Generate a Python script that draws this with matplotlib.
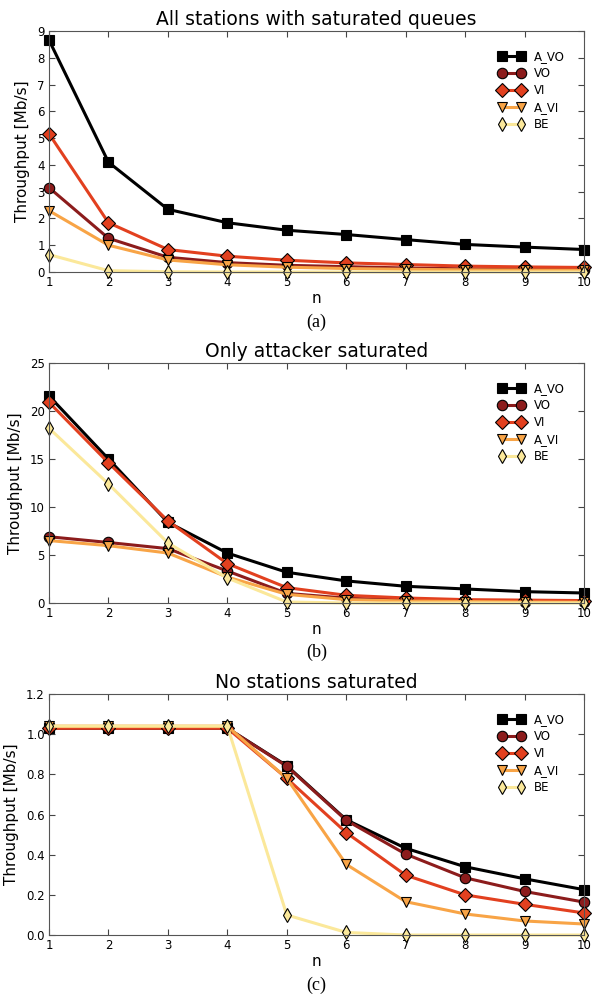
import matplotlib
matplotlib.use("Agg")
import matplotlib.pyplot as plt

n = [1, 2, 3, 4, 5, 6, 7, 8, 9, 10]
labels = ["A_VO", "VO", "VI", "A_VI", "BE"]
colors = ["#000000", "#8c1c1c", "#e2401f", "#f8a446", "#fbe89a"]
markers = ["s", "o", "D", "v", "d"]

# (a) all stations with saturated queues
sat_all = [
    [8.66, 4.10, 2.34, 1.84, 1.56, 1.40, 1.21, 1.03, 0.93, 0.84],
    [3.15, 1.26, 0.55, 0.35, 0.25, 0.20, 0.15, 0.12, 0.10, 0.09],
    [5.16, 1.84, 0.84, 0.59, 0.44, 0.34, 0.28, 0.22, 0.19, 0.17],
    [2.29, 1.00, 0.45, 0.27, 0.18, 0.13, 0.10, 0.08, 0.07, 0.06],
    [0.65, 0.05, 0.01, 0.0, 0.0, 0.0, 0.0, 0.0, 0.0, 0.0],
]
# (b) only attacker saturated
sat_att = [
    [21.56, 15.0, 8.4, 5.2, 3.2, 2.3, 1.74, 1.46, 1.18, 1.04],
    [6.9, 6.3, 5.66, 3.33, 1.0, 0.5, 0.3, 0.2, 0.15, 0.12],
    [20.9, 14.6, 8.55, 4.1, 1.6, 0.8, 0.52, 0.35, 0.3, 0.25],
    [6.5, 5.97, 5.2, 2.7, 0.9, 0.35, 0.2, 0.15, 0.1, 0.08],
    [18.2, 12.4, 6.25, 2.6, 0.1, 0.0, 0.0, 0.0, 0.0, 0.0],
]
# (c) no stations saturated
sat_none = [
    [1.03, 1.03, 1.03, 1.03, 0.843, 0.574, 0.432, 0.34, 0.28, 0.226],
    [1.03, 1.03, 1.03, 1.03, 0.84, 0.571, 0.403, 0.285, 0.217, 0.164],
    [1.03, 1.03, 1.03, 1.03, 0.78, 0.51, 0.298, 0.20, 0.153, 0.11],
    [1.04, 1.04, 1.04, 1.04, 0.78, 0.352, 0.166, 0.105, 0.07, 0.055],
    [1.04, 1.04, 1.04, 1.04, 0.10, 0.013, 0.0, 0.0, 0.0, 0.0],
]

panels = [
    (sat_all, "All stations with saturated queues", [0, 9], range(0, 10), "%d", "(a)"),
    (sat_att, "Only attacker saturated", [0, 25], range(0, 26, 5), "%d", "(b)"),
    (sat_none, "No stations saturated", [0, 1.2], [0, 0.2, 0.4, 0.6, 0.8, 1.0, 1.2], "%.1f", "(c)"),
]
boxes = [
    [0.0828, 0.7269, 0.9037, 0.2420],
    [0.0828, 0.3946, 0.9037, 0.2410],
    [0.0828, 0.0612, 0.9037, 0.2420],
]

fig = plt.figure(figsize=(5.92, 9.96), dpi=100)

for (data, title, ylim, yticks, fmt, tag), box in zip(panels, boxes):
    ax = fig.add_axes(box)
    for vals, lab, c, m in zip(data, labels, colors, markers):
        ax.plot(n, vals, color=c, marker=m, markersize=7.5, linewidth=2.2,
                markeredgecolor="black", markeredgewidth=0.8, label=lab,
                clip_on=False)
    ax.set_xlim(1, 10)
    ax.set_ylim(ylim)
    ax.set_xticks(n)
    ax.set_yticks(list(yticks))
    ax.set_yticklabels([fmt % t for t in yticks])
    ax.tick_params(direction="in", top=True, right=True, labelsize=8.5,
                   length=4, color="#444444", pad=3)
    for s in ax.spines.values():
        s.set_color("#555555")
    ax.set_title(title, fontsize=13.5, pad=4)
    ax.set_ylabel("Throughput [Mb/s]", fontsize=11, labelpad=5)
    ax.set_xlabel("n", fontsize=11, labelpad=1)
    ax.legend(loc="upper right", frameon=False, fontsize=8.5, numpoints=2,
              handlelength=2.2, labelspacing=0.35, borderaxespad=1.2)
    ax.text(0.5, -0.207, tag, transform=ax.transAxes, ha="center", va="center",
            fontsize=13, family="Liberation Serif")

fig.savefig("out.png", dpi=100)
